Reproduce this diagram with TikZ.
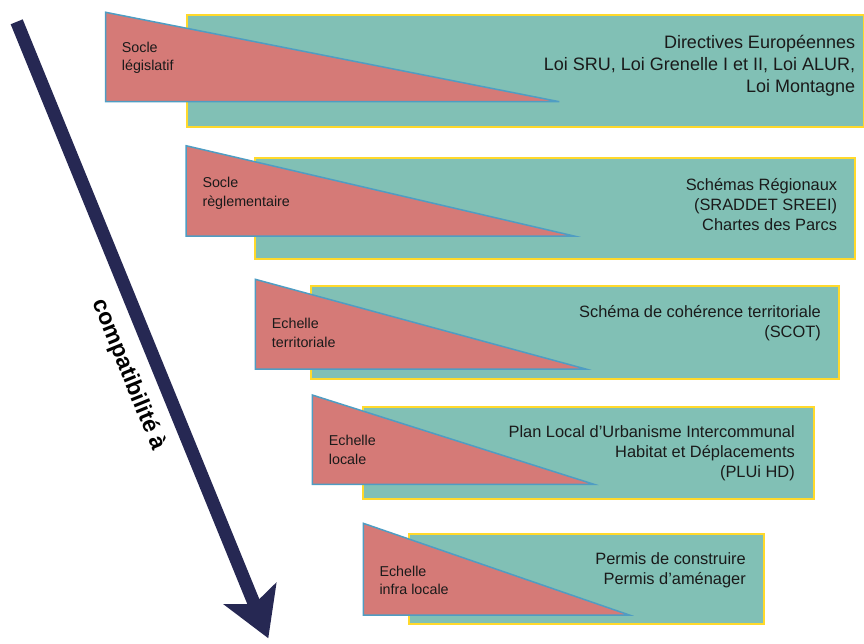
\documentclass[tikz,border=0pt]{standalone}
\usepackage{fontspec}
\setmainfont{Liberation Sans}
\usepackage{tikz}
\usetikzlibrary{
    arrows.meta,
    positioning
}
\definecolor{panelgreen}{HTML}{81C0B5}
\definecolor{panelyellow}{HTML}{FFD92B}
\definecolor{wedgered}{HTML}{D57A77}
\definecolor{wedgeblue}{HTML}{4F9DC3}
\definecolor{arrownavy}{HTML}{262853}
\definecolor{inkgrey}{HTML}{1A1A1A}
\tikzset{
    panel/.style={draw=panelyellow, fill=panelgreen, line width=2pt, anchor=north west, inner sep=0pt},
    wedge/.style={draw=wedgeblue, fill=wedgered, line width=1.5pt, line join=miter},
    lawbig/.style={anchor=east, align=right, inner sep=0pt, text=inkgrey, font=\fontsize{18}{22}\selectfont},
    lawtext/.style={anchor=east, align=right, inner sep=0pt, text=inkgrey, font=\fontsize{16.4}{20}\selectfont},
    levellabel/.style={anchor=west, align=left, inner sep=0pt, text=inkgrey, font=\fontsize{14.3}{18.5}\selectfont},
    bigarrow/.style={draw=arrownavy, line width=13pt, -{Stealth[length=48pt, width=56pt, inset=11pt]}}
}

\begin{document}
\begin{tikzpicture}[x=1pt, y=-1pt]
    \useasboundingbox (0,0) rectangle (864,643);
    \node[panel, minimum width=676.5pt, minimum height=111.7pt] (p1) at (186,14) {};
    \node[panel, minimum width=600.3pt, minimum height=101pt] (p2) at (254,157) {};
    \node[panel, minimum width=528pt, minimum height=93pt] (p3) at (310.3,285) {};
    \node[panel, minimum width=451.3pt, minimum height=91.5pt] (p4) at (362,406) {};
    \node[panel, minimum width=354.7pt, minimum height=90.3pt] (p5) at (408,533) {};
    \draw[wedge] (105.7,12.3) -- (105.7,101.7) -- (559.3,101.7) -- cycle;
    \draw[wedge] (186,145.7) -- (186,236) -- (574,236) -- cycle;
    \draw[wedge] (255.3,279.3) -- (255.3,369) -- (585.7,369) -- cycle;
    \draw[wedge] (312.3,395) -- (312.3,484.3) -- (594,484.3) -- cycle;
    \draw[wedge] (363.3,523.3) -- (363.3,615) -- (629.3,615) -- cycle;
    \node[levellabel] (l1) at (121.7,57.7) {Socle\\législatif};
    \node[levellabel] (l2) at (202.3,193.2) {Socle\\règlementaire};
    \node[levellabel] (l3) at (271.7,332.8) {Echelle\\territoriale};
    \node[levellabel] (l4) at (328.7,449.8) {Echelle\\locale};
    \node[levellabel] (l5) at (379.3,580.2) {Echelle\\infra locale};
    \node[lawbig] (t1) at (855.3,65.3) {Directives Européennes\\Loi SRU, Loi Grenelle I et II, Loi ALUR,\\Loi Montagne};
    \node[lawtext] (t2) at (837.3,204.8) {Schémas Régionaux\\(SRADDET SREEI)\\Chartes des Parcs};
    \node[lawtext] (t3) at (821,323) {Schéma de cohérence territoriale\\(SCOT)};
    \node[lawtext] (t4) at (795,453.5) {Plan Local d’Urbanisme Intercommunal\\Habitat et Déplacements\\(PLUi HD)};
    \node[lawtext] (t5) at (746,570.7) {Permis de construire\\Permis d’aménager};
    \coordinate (atop) at (16.7,21.8);
    \coordinate (abot) at (268.3,638.3);
    \draw[bigarrow] (atop) -- (abot);
    \node[rotate=-67.8, inner sep=0pt, font=\fontsize{23}{26}\selectfont\bfseries] (compat) at (128.3,375) {compatibilité à};
\end{tikzpicture}
\end{document}
